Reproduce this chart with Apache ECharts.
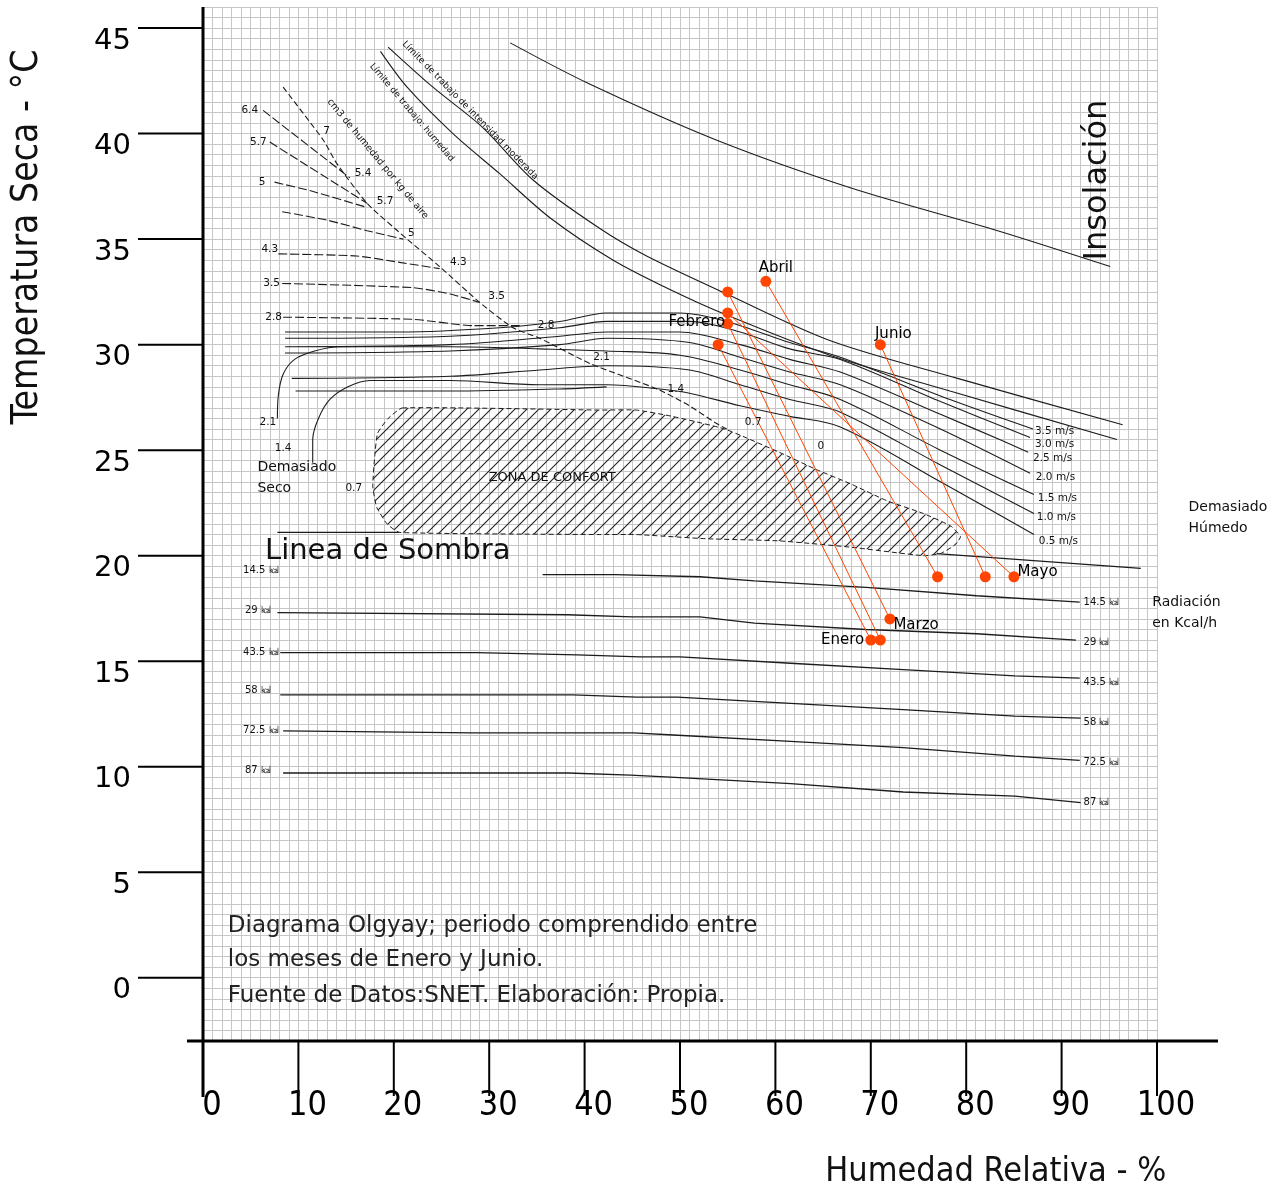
<!DOCTYPE html>
<html><head><meta charset="utf-8">
<script src="https://cdn.jsdelivr.net/npm/echarts/dist/echarts.min.js"></script>
<style>html,body{margin:0;padding:0;background:#fff}#chart{width:1275px;height:1189px}</style>
</head><body><div id="chart"></div>
<script>
// ---------- axes ----------
const X_MIN = 0, X_MAX = 100, Y_MIN = -3, Y_MAX = 46;
const xTicks = [0,10,20,30,40,50,60,70,80,90,100];
const yTicks = [0,5,10,15,20,25,30,35,40,45];

// ---------- monthly data (RH %, T °C) ----------
const months = ['Enero','Febrero','Marzo','Abril','Mayo','Junio'];
const rhMin = [54, 55, 55, 59, 55, 71];
const tMax  = [30, 31, 32.5, 33, 31.5, 30];
const rhMax = [70, 71, 72, 77, 85, 82];
const tMin  = [16, 16, 17, 19, 19, 19];

// ---------- chart curves (RH %, T °C) ----------
const insolacion = [[32.2,44.3],[40.3,42.4],[53.8,39.7],[68.1,37.4],[83.3,35.4],[95.1,33.7]];
const limiteModerado = [[19.4,44.1],[24.1,42.2],[29.3,40.3],[34.6,37.8],[41.6,35.5],[46.5,34.2],[54.9,32.4],[65.7,30.2],[79.1,28.4],[96.4,26.2]];
const limiteHumedad = [[18.6,43.9],[21.4,42.2],[26.2,40.0],[31.1,38.1],[36.4,36.0],[43.0,34.0],[49.0,32.6],[54.9,31.4],[65.7,29.5],[78.3,27.8],[95.8,25.5]];

const wind35 = [[8.6,30.6],[20.6,30.6],[31.1,30.8],[37.4,31.1],[42.3,31.5],[50.0,31.5],[54.9,31.1],[61.5,30.1],[66.8,29.4],[78.3,27.4],[87.0,26.0]];
const wind30 = [[8.6,30.3],[25.9,30.4],[37.4,30.8],[42.3,31.1],[51.0,31.1],[56.3,30.6],[61.5,29.8],[66.8,29.3],[77.3,27.3],[86.7,25.6]];
const wind25 = [[8.6,29.9],[25.9,30.0],[37.4,30.4],[42.3,30.6],[50.0,30.6],[56.3,30.0],[61.5,29.3],[66.8,28.7],[77.3,26.7],[83.5,25.5],[86.5,24.9]];
const wind20 = [[8.6,29.6],[25.9,29.7],[37.4,30.0],[42.3,30.3],[51.0,30.1],[56.3,29.4],[61.5,28.7],[66.8,28.1],[77.3,26.0],[86.7,23.9]];
const wind15 = [[7.8,26.5],[7.9,27.6],[8.4,28.6],[9.6,29.3],[11.7,29.7],[14.4,29.9],[25.9,29.9],[35.3,29.8],[42.3,29.7],[50.0,29.5],[56.3,28.8],[61.5,28.1],[66.8,27.4],[77.3,25.0],[87.1,22.9]];
const wind10 = [[9.3,28.4],[25.9,28.5],[35.3,28.8],[42.3,29.0],[51.0,28.8],[56.3,28.1],[61.5,27.4],[66.8,26.8],[77.3,24.3],[87.1,22.0]];
const wind05 = [[11.5,24.4],[11.5,25.5],[12.1,26.5],[13.3,27.4],[15.2,28.0],[17.5,28.3],[25.9,28.3],[35.3,28.1],[42.3,28.1],[47.9,27.9],[51.0,27.7],[56.3,27.1],[61.5,26.6],[66.8,26.1],[77.3,23.5],[87.1,21.0]];
const windExtra = [[9.7,27.8],[25.9,27.8],[37.4,27.9],[42.3,28.0]];
const windLabels = [[87.2,25.9,'3.5 m/s'],[87.2,25.3,'3.0 m/s'],[87.0,24.6,'2.5 m/s'],[87.3,23.7,'2.0 m/s'],[87.5,22.7,'1.5 m/s'],[87.4,21.8,'1.0 m/s'],[87.6,20.7,'0.5 m/s']];

// moisture (g/kg) dashed lines
const moist64 = [[6.3,41.1],[15.4,37.9]];
const moist57 = [[7.0,39.6],[17.2,36.7]];
const moist50 = [[7.5,37.7],[11.2,37.3],[17.2,36.5]];
const moistU  = [[8.3,36.3],[13.0,35.9],[17.2,35.4],[21.0,35.0]];
const moist43 = [[7.9,34.3],[16.1,34.2],[20.6,33.9],[24.8,33.6]];
const moist35 = [[8.3,32.9],[22.0,32.7],[25.9,32.4],[29.0,32.0]];
const moist28 = [[8.4,31.3],[22.0,31.2],[28.3,30.9],[33.2,30.9]];
const moistDiagonal = [[8.4,42.2],[12.6,39.7],[14.0,38.6],[17.2,36.7],[21.4,35.0],[24.8,33.7],[29.0,32.0],[32.5,30.8],[35.3,30.3],[40.6,29.1],[47.6,27.9],[51.0,27.1],[53.7,26.3],[54.9,26.0]];
const diagLabels = [[12.6,40.1,'7'],[15.9,38.1,'5.4'],[18.2,36.8,'5.7'],[21.5,35.3,'5'],[25.9,33.9,'4.3'],[29.9,32.3,'3.5'],[35.1,30.9,'2.8'],[40.9,29.4,'2.1'],[48.7,27.9,'1.4'],[56.8,26.3,'0.7'],[64.4,25.2,'0']];
const leftMoistLabels = [[4.9,41.1,'6.4'],[5.8,39.6,'5.7'],[6.2,37.7,'5'],[7.0,34.5,'4.3'],[7.2,32.9,'3.5'],[7.4,31.3,'2.8'],[6.8,26.3,'2.1'],[8.4,25.1,'1.4'],[15.8,23.2,'0.7']];

// comfort zone and shade line
const comfortZone = [[20.9,27.0],[41.6,26.9],[45.4,26.9],[49.2,26.6],[54.7,26.0],[60.4,24.9],[64.2,24.1],[67.9,23.4],[71.7,22.6],[75.5,22.0],[78.4,21.4],[79.4,20.9],[78.8,20.5],[77.3,20.1],[75.5,20.0],[67.9,20.4],[60.4,20.7],[52.8,20.8],[45.4,21.0],[41.6,21.0],[20.6,21.1],[19.3,21.5],[18.2,22.3],[17.8,23.3],[18.0,24.7],[18.3,25.8],[19.4,26.5]];
const shadeLeft = [[7.8,21.1],[20.6,21.1]];
const shadeRight = [[76.9,20.1],[98.3,19.4]];

// radiation lines (kcal/h)
const rad145 = [[35.6,19.1],[43.2,19.1],[52.1,19.0],[57.8,18.8],[69.5,18.5],[81.1,18.1],[91.9,17.8]];
const rad29  = [[7.8,17.3],[38.2,17.2],[45.0,17.1],[52.1,17.1],[57.8,16.8],[69.5,16.5],[81.1,16.3],[91.5,16.0]];
const rad435 = [[8.1,15.4],[28.7,15.4],[39.2,15.3],[45.8,15.2],[50.0,15.2],[61.6,14.9],[73.4,14.6],[85.1,14.3],[91.9,14.2]];
const rad58  = [[8.1,13.4],[38.8,13.4],[45.5,13.3],[49.7,13.3],[61.6,13.0],[73.4,12.7],[85.1,12.4],[92.0,12.3]];
const rad725 = [[8.4,11.7],[28.3,11.6],[38.7,11.6],[45.1,11.6],[49.3,11.5],[61.6,11.2],[73.4,10.9],[85.1,10.5],[91.9,10.3]];
const rad87  = [[8.4,9.7],[38.3,9.7],[44.8,9.6],[49.0,9.5],[61.6,9.2],[73.4,8.8],[85.1,8.6],[92.0,8.3]];
const radLabelsLeft = [[4.2,19.3,'14.5 ㎉'],[4.4,17.4,'29 ㎉'],[4.2,15.4,'43.5 ㎉'],[4.4,13.6,'58 ㎉'],[4.2,11.7,'72.5 ㎉'],[4.4,9.8,'87 ㎉']];
const radLabelsRight = [[92.3,17.8,'14.5 ㎉'],[92.3,15.9,'29 ㎉'],[92.3,14.0,'43.5 ㎉'],[92.3,12.1,'58 ㎉'],[92.3,10.2,'72.5 ㎉'],[92.3,8.3,'87 ㎉']];

// annotations
const bigNotes = [[6.5,20.2,'Linea de Sombra']];
const insolNote = [[93.8,37.8,'Insolación']];
const smallNotes = [[5.7,24.2,'Demasiado'],[5.7,23.2,'Seco'],[103.3,22.3,'Demasiado'],[103.3,21.3,'Húmedo'],[99.5,17.8,'Radiación'],[99.5,16.8,'en Kcal/h']];
const zoneNote = [[36.6,23.7,'ZONA DE CONFORT']];
const sourceNotes = [[2.6,2.45,'Diagrama Olgyay; periodo comprendido entre'],[2.6,0.83,'los meses de Enero y Junio.'],[2.6,-0.87,'Fuente de Datos:SNET. Elaboración: Propia.']];
const limNote1 = [[28.0,41.1,'Límite de trabajo de intensidad moderada']];
const limNote2 = [[21.9,41.0,'Límite de trabajo: humedad']];
const limNote3 = [[18.3,38.8,'cm3 de humedad por kg de aire']];
const xTitle = [[83.1,-9.2,'Humedad Relativa - %']];
const yTitle = [[-18.45,35.1,'Temperatura Seca - °C']];

// ---------- rendering ----------
const FONT = "'DejaVu Sans', Verdana, sans-serif";
const NARROW = "'Liberation Sans Narrow','DejaVu Sans Condensed',sans-serif";
const COND = "'DejaVu Sans Condensed','Liberation Sans Narrow',sans-serif";
const INK = '#1c1c1c';
const ORANGE = '#ff4500';

const hatch = document.createElement('canvas');
hatch.width = 12; hatch.height = 12;
(function(){const c = hatch.getContext('2d'); c.strokeStyle = '#222'; c.lineWidth = 1.1;
  c.beginPath(); c.moveTo(0,12); c.lineTo(12,0); c.moveTo(-2,2); c.lineTo(2,-2); c.moveTo(10,14); c.lineTo(14,10); c.stroke();})();

const series = [];
function addCurve(data, dash, smooth, width) {
  series.push({type:'line', data: data, symbol:'none', showSymbol:false, smooth: smooth === undefined ? 0.3 : smooth,
    silent:true, animation:false, z:4, lineStyle:{color:INK, width: width || 1.1, type: dash || 'solid'}});
}
function addTexts(arr, o) {
  series.push({type:'custom', coordinateSystem:'cartesian2d', clip:false, silent:true, animation:false, z:8,
    data: arr.map(a => [a[0], a[1]]),
    renderItem: function(params, api) {
      const a = arr[params.dataIndex];
      const p = api.coord([api.value(0), api.value(1)]);
      return {type:'text', x:p[0], y:p[1], rotation: o.rotation || 0,
        style:{text:a[2], fontSize:o.size, fontFamily:o.family || FONT, fill:o.color || '#111',
               align:o.align || 'left', verticalAlign:'middle'}};
    }});
}

// comfort zone
series.push({type:'custom', coordinateSystem:'cartesian2d', clip:false, silent:true, animation:false, z:2,
  data:[comfortZone[0]],
  renderItem: function(params, api) {
    return {type:'polygon', shape:{points: comfortZone.map(p => api.coord(p)), smooth:0.15},
      style:{fill:{image:hatch, repeat:'repeat'}, stroke:INK, lineWidth:1, lineDash:[5,3]}};
  }});

addCurve(insolacion, 'solid', 0.3);
addCurve(limiteModerado, 'solid', 0.3);
addCurve(limiteHumedad, 'solid', 0.3);
[wind35, wind30, wind25, wind20, wind10].forEach(w => addCurve(w, 'solid', 0.3));
addCurve(wind15, 'solid', 0.35);
addCurve(wind05, 'solid', 0.35);
addCurve(windExtra, 'solid', 0.3);
[moist64, moist57, moist50, moistU, moist43, moist35, moist28].forEach(m => addCurve(m, [9,3], 0.2));
addCurve(moistDiagonal, [6,3], 0.2);
addCurve(shadeLeft, 'solid', 0, 1.3);
addCurve(shadeRight, 'solid', 0, 1.3);
[rad145, rad29, rad435, rad58, rad725, rad87].forEach(r => addCurve(r, 'solid', 0, 1.3));

// months
const monthLabel = [
  {end:1, position:'left', distance:1, offset:[0,0]},
  {end:0, position:'left', distance:-3, offset:[0,-1]},
  {end:1, position:'right', distance:-2, offset:[0,6]},
  {end:0, position:'top', distance:0, offset:[10,0]},
  {end:1, position:'right', distance:-2, offset:[0,-5]},
  {end:0, position:'top', distance:-2, offset:[13,0]}
];
months.forEach((m, i) => {
  const pts = [[rhMin[i], tMax[i]], [rhMax[i], tMin[i]]];
  const L = monthLabel[i];
  series.push({type:'line', name:m, symbol:'circle', symbolSize:11, showSymbol:true, silent:true, animation:false, z:6,
    itemStyle:{color:ORANGE}, lineStyle:{color:ORANGE, width:1},
    data: pts.map((p, k) => k === L.end ? {value:p, label:{show:true, formatter:m, position:L.position, distance:L.distance,
      offset:L.offset, color:'#000', fontSize:15, fontFamily:FONT}} : {value:p})});
});

// texts
addTexts(windLabels, {size:10.5});
addTexts(diagLabels, {size:10.5});
addTexts(leftMoistLabels, {size:10.5, align:'center'});
addTexts(radLabelsLeft, {size:10});
addTexts(radLabelsRight, {size:10});
addTexts(bigNotes, {size:29});
addTexts(insolNote, {size:32, rotation:Math.PI/2, align:'center'});
addTexts(smallNotes, {size:14});
addTexts(zoneNote, {size:13, align:'center'});
addTexts(sourceNotes, {size:23, color:'#222'});
addTexts(limNote1, {size:9, rotation:-0.796, align:'center'});
addTexts(limNote2, {size:9, rotation:-0.866, align:'center'});
addTexts(limNote3, {size:9.5, rotation:-0.878, align:'center'});
addTexts(xTitle, {size:34, family:COND, align:'center'});
addTexts(yTitle, {size:37, family:COND, align:'center', rotation:Math.PI/2});

// axis lines
series.push({type:'custom', coordinateSystem:'cartesian2d', clip:false, silent:true, animation:false, z:9,
  data:[[X_MIN, Y_MIN]],
  renderItem: function(params, api) {
    const o = api.coord([X_MIN, Y_MIN]), t = api.coord([X_MIN, Y_MAX]), r = api.coord([X_MAX, Y_MIN]);
    return {type:'group', children:[
      {type:'line', shape:{x1:o[0], y1:t[1], x2:o[0], y2:o[1] + 56}, style:{stroke:'#000', lineWidth:3}},
      {type:'line', shape:{x1:o[0] - 16, y1:o[1], x2:r[0] + 61, y2:o[1]}, style:{stroke:'#000', lineWidth:3}}
    ]};
  }});
// y ticks & labels
series.push({type:'custom', coordinateSystem:'cartesian2d', clip:false, silent:true, animation:false, z:9,
  data: yTicks.map(v => [X_MIN, v]),
  renderItem: function(params, api) {
    const p = api.coord([api.value(0), api.value(1)]);
    return {type:'group', children:[
      {type:'line', shape:{x1:p[0] - 65, y1:p[1], x2:p[0], y2:p[1]}, style:{stroke:'#000', lineWidth:2}},
      {type:'text', x:p[0] - 72, y:p[1] + 13, style:{text:String(yTicks[params.dataIndex]), fontSize:29, fontFamily:FONT,
        fill:'#000', align:'right', verticalAlign:'middle'}}
    ]};
  }});
// x ticks & labels
series.push({type:'custom', coordinateSystem:'cartesian2d', clip:false, silent:true, animation:false, z:9,
  data: xTicks.map(v => [v, Y_MIN]),
  renderItem: function(params, api) {
    const p = api.coord([api.value(0), api.value(1)]);
    return {type:'group', children:[
      {type:'line', shape:{x1:p[0], y1:p[1], x2:p[0], y2:p[1] + 55}, style:{stroke:'#000', lineWidth:2}},
      {type:'text', x:p[0] + 9, y:p[1] + 65, style:{text:String(xTicks[params.dataIndex]), fontSize:34, fontFamily:NARROW,
        fill:'#000', align:'center', verticalAlign:'middle'}}
    ]};
  }});

const chart = echarts.init(document.getElementById('chart'), null, {renderer:'canvas'});
chart.setOption({
  backgroundColor:'#ffffff',
  animation:false,
  grid:{left:203, right:118, top:7, bottom:148, containLabel:false},
  xAxis:{type:'value', min:X_MIN, max:X_MAX, interval:1,
    axisLine:{show:false}, axisTick:{show:false}, axisLabel:{show:false},
    splitLine:{show:true, lineStyle:{color:'#c6c6c6', width:1}}},
  yAxis:{type:'value', min:Y_MIN, max:Y_MAX, interval:0.5,
    axisLine:{show:false}, axisTick:{show:false}, axisLabel:{show:false},
    splitLine:{show:true, lineStyle:{color:'#c6c6c6', width:1}}},
  series: series
});
</script></body></html>
